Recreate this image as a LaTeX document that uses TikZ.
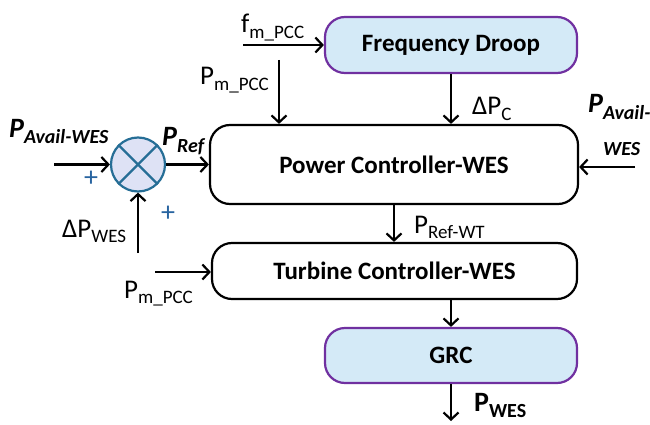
\documentclass[tikz,border=0pt]{standalone}
\usepackage{fontspec}
\setmainfont{Carlito}
\usetikzlibrary{arrows.meta}
\definecolor{boxblue}{RGB}{212,234,247}
\definecolor{boxpurple}{RGB}{112,48,160}
\definecolor{sumfill}{RGB}{222,226,245}
\definecolor{sumline}{RGB}{38,110,150}
\definecolor{signblue}{RGB}{40,100,160}
\newcommand{\sbs}[1]{\raisebox{-0.45ex}{\fontsize{19}{19}\selectfont #1}}
\newcommand{\bsbs}[1]{\raisebox{-0.45ex}{\fontsize{20}{20}\selectfont\bfseries #1}}
\tikzset{
  block/.style={draw=black, line width=2.2pt, rounded corners=20pt, inner sep=0pt,
    font=\fontsize{25}{28}\selectfont\bfseries},
  bluebox/.style={block, draw=boxpurple, fill=boxblue},
  arr/.style={line width=2.2pt, -{Straight Barb[length=7pt,width=15pt,line width=2.2pt]}},
  sig/.style={font=\fontsize{27}{30}\selectfont, inner sep=0pt},
  bsig/.style={font=\fontsize{28}{30}\selectfont\bfseries\itshape, inner sep=0pt},
  sign/.style={font=\fontsize{28}{30}\selectfont, text=signblue, inner sep=0pt}
}
\begin{document}
\begin{tikzpicture}[x=1pt,y=-1pt]
\useasboundingbox (0,0) rectangle (650,425);

% blocks
\node[bluebox, minimum width=252pt, minimum height=56pt] (fd) at (451,45) {Frequency Droop};
\node[block, minimum width=368pt, minimum height=79pt] (pc) at (394,164.5) {Power Controller-WES};
\node[block, minimum width=365pt, minimum height=56pt] (tc) at (394.5,271) {Turbine Controller-WES};
\node[bluebox, minimum width=252pt, minimum height=55pt] (grc) at (451,355.5) {GRC};

% summing junction
\node[circle, draw=sumline, fill=sumfill, line width=2.2pt, minimum size=54pt, inner sep=0pt] (sum) at (138,164.5) {};
\draw[sumline, line width=2.2pt] (sum.north west) -- (sum.south east);
\draw[sumline, line width=2.2pt] (sum.north east) -- (sum.south west);

% free ends of the signal lines
\coordinate (fin) at (243,45);
\coordinate (pin) at (279,60);
\coordinate (ain) at (54,164.5);
\coordinate (win) at (138,253);
\coordinate (rin) at (635,167);
\coordinate (tin) at (155,272);
\coordinate (pout) at (451,421);

% connectors
\draw[arr] (fin) -- (fd.west);
\draw[arr] (pin) -- (pin |- pc.north);
\draw[arr] (fd.south) -- (fd.south |- pc.north);
\draw[arr] (ain) -- (sum.west);
\draw[arr] (win) -- (sum.south);
\draw[arr] (sum.east) -- (pc.west |- sum.east);
\draw[arr] (rin) -- (pc.east |- rin);
\draw[arr] (pc.south) -- (pc.south |- tc.north);
\draw[arr] (tin) -- (tc.west |- tin);
\draw[arr] (grc.north |- tc.south) -- (grc.north);
\draw[arr] (grc.south) -- (pout);

% signal labels
\node[sig, anchor=base west] (lf) at (241,33) {f\sbs{m\_PCC}};
\node[sig, anchor=base west] (lpm) at (200,85) {P\sbs{m\_PCC}};
\node[sig, anchor=base west] (ldpc) at (472,115) {ΔP\sbs{C}};
\node[bsig, anchor=base west] (lav) at (9,137) {P\bsbs{\itshape Avail-WES}};
\node[bsig, anchor=base west] (lref) at (162,146) {P\bsbs{\itshape Ref}};
\node[sig, anchor=base west] (ldpw) at (62,237) {ΔP\sbs{WES}};
\node[sig, anchor=base west] (lrw) at (414,233) {P\sbs{Ref-WT}};
\node[sig, anchor=base west] (ltm) at (124,298) {P\sbs{m\_PCC}};
\node[font=\fontsize{28}{30}\selectfont\bfseries, inner sep=0pt, anchor=base west] (lpw) at (474,411) {P\bsbs{WES}};
\node[bsig, anchor=base west] (lavr) at (588,113) {P\bsbs{\itshape Avail-}};
\node[font=\fontsize{20}{20}\selectfont\bfseries\itshape, inner sep=0pt, anchor=base west] (lavw) at (603,155) {WES};

% signs at the junction
\node[sign] (s1) at (91,179) {+};
\node[sign] (s2) at (168,214) {+};
\end{tikzpicture}
\end{document}
